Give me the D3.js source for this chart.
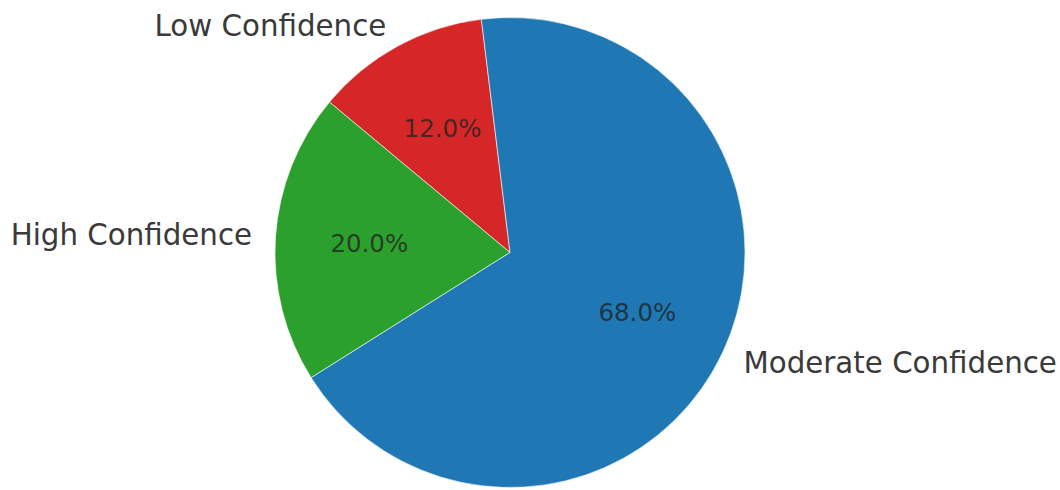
<!DOCTYPE html>
<html><head><meta charset="utf-8">
<script src="https://cdn.jsdelivr.net/npm/d3@7"></script>
<style>html,body{margin:0;padding:0;background:#fff;}</style>
</head><body><svg id="c" width="1060" height="490"></svg>
<script>
const categories = ["Low Confidence", "High Confidence", "Moderate Confidence"];
const values = [12, 20, 68];
const colors = ["#d62728", "#2ca02c", "#1f77b4"];

const svg = d3.select("#c");
const cx = 510, cy = 252.5, r = 235;
const start = -7 * Math.PI / 180;
const pie = d3.pie().sort(null).startAngle(start).endAngle(start - 2 * Math.PI);
const arcs = pie(values);
const arc = d3.arc().innerRadius(0).outerRadius(r);
const g = svg.append("g").attr("transform", `translate(${cx},${cy})`);
const total = d3.sum(values);

g.selectAll("path").data(arcs).join("path")
  .attr("d", arc)
  .attr("fill", (d, i) => colors[i])
  .attr("stroke", "#ffffff").attr("stroke-width", 0.6);

function pos(d, k) {
  const a = (d.startAngle + d.endAngle) / 2;
  return [Math.sin(a) * r * k, -Math.cos(a) * r * k];
}
g.selectAll("text.lab").data(arcs).join("text").attr("class", "lab")
  .attr("x", d => pos(d, 1.1)[0]).attr("y", d => pos(d, 1.1)[1])
  .attr("text-anchor", d => pos(d, 1.1)[0] < 0 ? "end" : "start")
  .attr("dominant-baseline", "central")
  .attr("font-family", "DejaVu Sans").attr("font-size", 29.3)
  .attr("fill", "#3a3a3a")
  .text((d, i) => categories[i]);
g.selectAll("text.pct").data(arcs).join("text").attr("class", "pct")
  .attr("x", d => pos(d, 0.6)[0]).attr("y", d => pos(d, 0.6)[1])
  .attr("text-anchor", "middle")
  .attr("dominant-baseline", "central")
  .attr("font-family", "DejaVu Sans").attr("font-size", 24.5)
  .attr("fill", "#222").attr("fill-opacity", 0.8)
  .text(d => (d.value / total * 100).toFixed(1) + "%");
</script></body></html>
